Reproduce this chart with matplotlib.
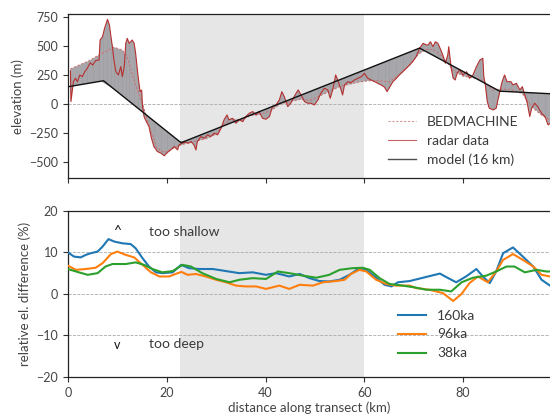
import numpy as np
import matplotlib

matplotlib.use("Agg")
import matplotlib.pyplot as plt

# ---- data ----
model_km = [0.0, 7.2, 22.9, 71.2, 87.4, 97.6]
model_m = [148, 200, -335, 482, 110, 88]

radar_km = [0.5, 0.6, 1.1, 1.5, 1.9, 2.4, 2.9, 3.4, 3.9, 4.5, 5.0, 5.6, 6.3, 6.5, 7.0,
            7.4, 8.0, 8.4, 8.7, 9.0, 9.3, 9.7, 10.2, 10.7, 11.0, 11.4, 11.7, 12.0, 12.4,
            13.0, 13.4, 13.7, 14.2, 14.6, 14.9, 15.1, 15.4, 15.7, 16.4, 16.9, 17.4, 18.1,
            18.8, 19.5, 20.1, 20.8, 21.5, 22.2, 22.5, 23.2, 23.8, 24.4, 24.9, 25.5, 25.9,
            26.2, 26.9, 27.6, 28.3, 28.9, 29.6, 30.3, 31.0, 31.6, 32.2, 32.6, 33.3, 34.0,
            34.7, 35.4, 36.0, 36.7, 37.4, 38.1, 38.7, 39.4, 40.1, 40.8, 41.4, 42.1, 42.8,
            43.3, 43.8, 44.5, 45.1, 45.8, 46.6, 47.2, 47.9, 48.5, 49.2, 49.9, 50.6, 51.2,
            51.9, 52.6, 53.1, 53.6, 54.2, 54.6, 55.3, 55.6, 56.0, 56.7, 57.3, 58.0, 58.7,
            59.4, 60.0, 60.7, 61.4, 62.1, 62.7, 63.4, 64.1, 64.6, 65.0, 65.8, 66.5, 67.1,
            67.8, 68.5, 69.2, 69.8, 70.5, 71.2, 71.9, 72.6, 72.9, 73.4, 73.9, 74.4, 74.9,
            75.5, 75.9, 76.4, 76.9, 77.1, 77.6, 78.0, 78.4, 78.8, 79.3, 80.0, 80.7, 81.3,
            82.0, 82.7, 83.4, 84.0, 84.2, 84.5, 84.9, 85.3, 86.1, 86.7, 87.2, 87.9, 88.4,
            88.9, 89.7, 90.1, 90.8, 91.5, 92.0, 92.5, 93.0, 93.5, 93.9, 94.5, 95.1, 95.9,
            96.6, 97.2, 97.6]
radar_m = [285, 20, 192, 221, 192, 250, 235, 278, 307, 356, 335, 374, 380, 552, 580,
           652, 730, 681, 580, 494, 379, 278, 250, 322, 235, 322, 523, 566, 523,
           552, 523, 437, 235, 106, 120, -23, -109, -138, -196, -296, -368, -411,
           -425, -448, -420, -397, -368, -397, -353, -339, -330, -339, -325, -353, -397,
           -325, -282, -296, -267, -282, -253, -267, -210, -138, -95, -138, -124, -167,
           -138, -153, -109, -81, -66, -95, -66, -124, -132, -109, -23, -9, 34,
           106, 63, -23, 6, 63, 121, 77, 20, 6, 6, -9, 34, 92,
           135, 121, 49, 121, 250, 207, 121, 77, 164, 192, 183, 207, 221,
           235, 264, 221, 207, 192, 178, 164, 144, 106, 135, 192, 221, 250,
           278, 307, 336, 365, 408, 480, 523, 509, 509, 537, 494, 537, 523,
           465, 422, 351, 422, 494, 307, 221, 207, 264, 293, 250, 278, 221,
           250, 322, 379, 394, 235, 164, 20, -37, -52, -37, 63, 192, 250,
           192, 192, 164, 178, 121, 149, 77, 6, -109, -37, 6, -23, -81,
           -109, -181, -170]

bm_km = [0.5, 4.3, 6.6, 9.3, 11.0, 12.0, 13.0, 14.1, 15.1, 16.5, 18, 19.5, 21, 22.5,
         24, 26, 28, 30, 31.5, 33, 35, 37, 39, 41, 43, 45, 47, 49, 51, 53, 55, 57, 59,
         61, 63, 65, 67, 69, 71, 72.5, 74, 76, 78, 80, 82, 84, 86, 88, 90, 92, 94, 96,
         97.6]
bm_m = [302, 373, 431, 489, 465, 402, 259, 115, 0, -200, -380, -420, -390, -360,
        -340, -320, -300, -260, -180, -130, -140, -100, -90, -60, 0, 20, 40, 30, 70,
        110, 150, 170, 190, 200, 200, 190, 250, 330, 430, 470, 470, 400, 290, 240, 225,
        205, 120, 130, 120, 90, -30, -100, -140]

blue_km = [0, 1.2, 2.6, 3.6, 4.6, 6.0, 7.0, 8.2, 9.4, 11.0, 12.7, 13.7, 15.1, 16.4, 17.8,
           19.1, 21.2, 22.9, 24.5, 26.6, 29.3, 32.0, 34.7, 37.4, 40.1, 42.1, 43.5, 44.8,
           46.9, 48.9, 50.9, 52.9, 55.0, 57.0, 58.7, 60.4, 62.4, 64.1, 65.5, 66.8, 69.2,
           71.9, 75.3, 77.0, 78.6, 80.6, 82.7, 84.0, 85.4, 86.7, 88.1, 90.1, 92.1, 94.2,
           95.9, 97.6]
blue_pct = [10.0, 9.0, 8.8, 9.4, 9.8, 10.2, 11.4, 13.2, 12.6, 12.2, 12.0, 11.0, 8.6, 6.6,
            5.2, 5.0, 5.2, 7.0, 6.2, 6.0, 6.0, 5.5, 5.0, 5.2, 4.6, 5.0, 4.6, 4.2,
            4.8, 3.8, 3.1, 3.0, 3.4, 4.6, 6.0, 5.8, 3.9, 2.2, 1.8, 2.8, 3.1,
            3.9, 4.9, 3.8, 2.8, 4.2, 6.0, 4.2, 2.6, 5.4, 9.8, 11.2, 9.0, 6.6,
            3.4, 2.0]

orange_km = [0, 1.6, 3.6, 5.6, 7.0, 8.7, 10.0, 11.7, 13.4, 15.1, 16.8, 18.5, 20.5, 22.2,
             23.0, 24.2, 25.9, 27.9, 30.0, 32.0, 34.0, 36.0, 38.1, 40.1, 42.8, 44.8,
             46.9, 49.6, 51.6, 54.3, 56.0, 57.3, 59.0, 60.4, 62.4, 64.4, 66.4, 69.2,
             70.5, 73.2, 75.9, 78.0, 79.7, 81.3, 83.0, 85.0, 86.7, 88.1, 90.1, 92.1,
             94.2, 95.9, 97.6]
orange_pct = [6.8, 5.8, 6.0, 6.3, 7.4, 9.6, 10.2, 9.4, 8.8, 7.0, 5.2, 4.2, 4.2, 5.0,
              5.3, 4.6, 4.8, 4.2, 3.4, 2.8, 2.0, 1.8, 1.8, 1.2, 2.0, 1.2,
              2.2, 2.0, 2.8, 3.1, 3.4, 4.8, 5.8, 5.4, 3.4, 2.4, 2.0, 2.0,
              1.4, 1.0, 0.2, -1.7, 0.0, 2.6, 4.2, 2.8, 5.4, 8.2, 9.6, 8.2,
              6.6, 4.6, 4.2]

green_km = [0, 2.2, 4.0, 6.0, 7.6, 9.0, 11.7, 13.7, 15.4, 17.1, 19.1, 21.2, 23.2, 24.9,
            27.2, 30.0, 32.7, 34.7, 37.4, 40.1, 42.5, 44.8, 47.6, 50.3, 52.9, 55.0,
            57.6, 59.7, 61.1, 63.1, 65.1, 67.8, 70.5, 72.6, 75.3, 77.6, 79.7, 82.0,
            84.7, 86.7, 88.8, 90.4, 92.5, 94.9, 96.9, 97.6]
green_pct = [6.0, 5.2, 4.6, 5.0, 6.6, 7.2, 7.2, 7.6, 7.0, 6.0, 5.2, 5.5, 7.0, 6.6,
             5.0, 3.6, 2.8, 3.4, 3.8, 3.6, 5.4, 5.0, 4.4, 3.9, 4.6, 5.8,
             6.2, 6.3, 5.8, 3.8, 2.4, 2.0, 1.5, 1.0, 1.0, 0.6, 2.8, 3.9,
             4.4, 5.4, 6.6, 6.6, 5.2, 5.8, 5.4, 5.4]

shade_km = (22.7, 60.0)
x_ticks = [0, 20, 40, 60, 80]

plt.rcParams["font.family"] = ["Lato", "DejaVu Sans"]
plt.rcParams["text.color"] = "#3a3a3a"
plt.rcParams["axes.labelcolor"] = "#444444"
plt.rcParams["xtick.color"] = "#333333"
plt.rcParams["ytick.color"] = "#333333"
plt.rcParams["xtick.labelcolor"] = "#444444"
plt.rcParams["ytick.labelcolor"] = "#444444"

fig = plt.figure(figsize=(5.5, 4.16), dpi=100)
ax1 = fig.add_axes([0.1236, 0.572, 0.8764, 0.394])
ax2 = fig.add_axes([0.1236, 0.094, 0.8764, 0.399])

xmax = 97.6
fill_gray = "#a7a7ab"

# ---- top panel ----
ax1.axvspan(*shade_km, color="#e6e6e6", zorder=0, lw=0)
ax1.axhline(0, color="#aaaaaa", ls="--", lw=0.6, zorder=1)
rk = np.asarray(radar_km)
rm = np.asarray(radar_m)
mod_at_r = np.interp(rk, model_km, model_m)
mod_at_bm = np.interp(bm_km, model_km, model_m)
# misfit shading: model vs radar and model vs BEDMACHINE
ax1.fill_between(bm_km, mod_at_bm, bm_m, facecolor=fill_gray, edgecolor="none",
                 zorder=2)
ax1.fill_between(rk, mod_at_r, rm, facecolor=fill_gray, edgecolor="none", zorder=2)
ax1.vlines(rk[::2], mod_at_r[::2], rm[::2], color="#8c8c90", lw=0.4, alpha=0.35,
           zorder=2)
ax1.plot(bm_km, bm_m, color="#c97474", ls=(0, (2, 1.5)), lw=0.8, zorder=3,
         label="BEDMACHINE")
ax1.plot(rk, rm, color="#b53030", lw=0.8, zorder=4, label="radar data")
ax1.plot(model_km, model_m, color="#111111", lw=1.0, zorder=5, label="model (16 km)")
ax1.set_xlim(0, xmax)
ax1.set_ylim(-640, 775)
ax1.set_yticks([-500, -250, 0, 250, 500, 750])
ax1.set_xticks(x_ticks)
ax1.set_xticklabels([])
ax1.set_ylabel("elevation (m)", fontsize=9.5)
handles, labels = ax1.get_legend_handles_labels()
leg1 = ax1.legend(handles, labels, loc="upper left", bbox_to_anchor=(0.664, 0.38),
                  frameon=False, fontsize=10, handlelength=2.0, borderpad=0,
                  borderaxespad=0, labelspacing=0.5, handletextpad=0.8)
for h in leg1.get_lines():
    h.set_alpha(0.75)

# ---- bottom panel ----
ax2.axvspan(*shade_km, color="#e6e6e6", zorder=0, lw=0)
for yv in (-10, 0, 10):
    ax2.axhline(yv, color="#aaaaaa", ls="--", lw=0.6, zorder=1)
ax2.plot(blue_km, blue_pct, color="#1f77b4", lw=1.5, label="160ka", zorder=3)
ax2.plot(orange_km, orange_pct, color="#ff7f0e", lw=1.5, label="96ka", zorder=3)
ax2.plot(green_km, green_pct, color="#2ca02c", lw=1.5, label="38ka", zorder=3)
ax2.text(10, 15.2, "^", ha="center", va="center", fontsize=10, color="#111111")
ax2.text(16.4, 15.0, "too shallow", ha="left", va="center", fontsize=10)
ax2.text(10, -12.2, "v", ha="center", va="center", fontsize=9, color="#111111")
ax2.text(16.4, -12.0, "too deep", ha="left", va="center", fontsize=10)
ax2.set_xlim(0, xmax)
ax2.set_ylim(-20, 20)
ax2.set_yticks([-20, -10, 0, 10, 20])
ax2.set_xticks(x_ticks)
ax2.set_xlabel("distance along transect (km)", fontsize=9.5, labelpad=2)
ax2.set_ylabel("relative el. difference (%)", fontsize=9.5)
ax2.legend(loc="upper left", bbox_to_anchor=(0.685, 0.406), frameon=False, fontsize=10,
           handlelength=2.0, borderpad=0, borderaxespad=0, labelspacing=0.5,
           handletextpad=0.8)

for ax in (ax1, ax2):
    ax.spines["right"].set_visible(False)
    for s in ("top", "left", "bottom"):
        ax.spines[s].set_color("#222222")
        ax.spines[s].set_linewidth(0.9)
    ax.tick_params(labelsize=9, length=3.5, width=0.8)

fig.savefig("out.png", dpi=100)
